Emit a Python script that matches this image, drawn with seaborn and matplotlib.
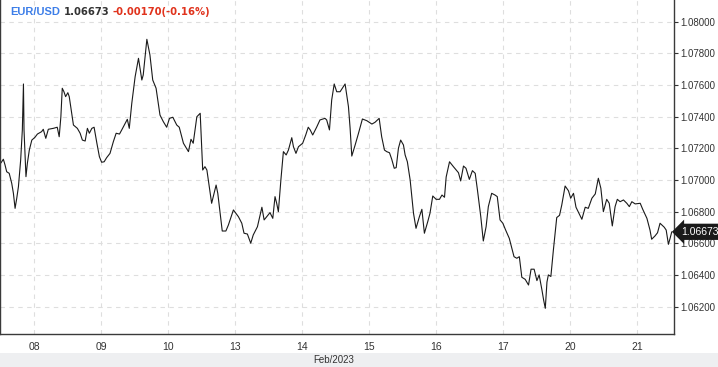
import matplotlib
matplotlib.use("Agg")
import matplotlib.pyplot as plt
import seaborn as sns
import pandas as pd
from matplotlib.patches import Rectangle

# ---- data: trading-hour offset (from Feb 7 12:00, weekend collapsed) and EUR/USD price
hours = [0, 0.9, 1.5, 2.1, 3.0, 3.9, 4.5, 5.1, 5.7, 6.3, 7.1, 7.7, 8.1, 8.3, 9.0, 9.5, 10.2, 11.1,
         12.2, 13.1, 14.6, 15.2, 16.1, 17.0, 18.8, 20.2, 20.9, 21.5, 22.0, 22.6, 23.2, 24.0, 24.5,
         26.0, 27.4, 28.4, 29.2, 30.2, 31.0, 31.7, 32.6, 33.4, 34.4, 35.3, 36.1, 37.0, 37.9, 39.1,
         40.3, 41.3, 42.5, 43.3, 45.3, 46.0, 46.9, 48.1, 49.3, 50.5, 51.0, 52.3, 53.4, 54.4, 55.6,
         57.0, 58.2, 59.4, 60.4, 61.6, 63.0, 63.9, 65.4, 67.2, 68.1, 68.9, 70.2, 71.4, 72.3, 73.1,
         73.8, 75.5, 77.1, 77.7, 79.3, 80.6, 81.5, 83.3, 85.1, 86.3, 87.1, 88.3, 89.5, 90.4, 91.9,
         93.5, 94.3, 95.2, 96.4, 97.4, 98.2, 98.8, 99.4, 100.3, 101.2, 102.2, 103.0, 104.2, 104.8,
         105.7, 106.6, 108.1, 109.2, 110.1, 110.8, 111.7, 113.1, 114.3, 116.1, 116.7, 117.7, 118.5,
         119.4, 120.3, 121.5, 122.7, 123.3, 124.5, 125.1, 125.7, 126.9, 128.1, 129.5, 131.1, 132.9,
         134.0, 135.5, 136.4, 137.4, 138.2, 139.2, 140.0, 140.9, 141.6, 142.4, 143.2, 144.2, 144.8,
         145.6, 146.6, 147.8, 148.7, 149.9, 150.8, 151.7, 152.9, 153.7, 154.7, 155.9, 157.1, 158.0,
         158.9, 159.5, 160.7, 162.1, 163.9, 164.7, 165.7, 166.6, 167.8, 168.9, 169.9, 170.7, 171.9,
         172.8, 173.8, 174.6, 175.8, 177.0, 177.8, 178.8, 179.8, 180.8, 182.1, 183.8, 184.8, 185.7,
         186.6, 187.8, 189.0, 189.9, 191.0, 192.0, 192.8, 193.8, 194.4, 195.0, 195.6, 196.1, 197.0,
         197.9, 199.1, 200.1, 200.9, 202.1, 203.3, 204.1, 205.1, 206.0, 207.2, 208.1, 209.3, 210.4,
         211.7, 212.9, 214.0, 214.9, 215.8, 217.0, 217.9, 219.0, 220.0, 220.8, 221.8, 223.0, 224.2,
         225.1, 226.0, 227.2, 229.0, 229.9, 231.4, 232.5, 233.1, 234.3, 235.2, 236.1, 237.6, 238.3,
         239.1, 239.7, 240.3]
prices = [1.07107, 1.07131, 1.07095, 1.07052, 1.07042, 1.06979, 1.06916, 1.06821, 1.06885, 1.06958,
          1.07126, 1.07316, 1.07606, 1.07316, 1.07021, 1.07105, 1.07189, 1.07252, 1.07269, 1.07290,
          1.07305, 1.07320, 1.07263, 1.07320, 1.07326, 1.07333, 1.07273, 1.07399, 1.07579, 1.07557,
          1.07526, 1.07551, 1.07526, 1.07347, 1.07326, 1.07295, 1.07252, 1.07246, 1.07326, 1.07295,
          1.07326, 1.07333, 1.07232, 1.07147, 1.07112, 1.07115, 1.07141, 1.07168, 1.07242, 1.07295,
          1.07290, 1.07316, 1.07383, 1.07326, 1.07484, 1.07652, 1.07768, 1.07631, 1.07663, 1.07888,
          1.07789, 1.07631, 1.07579, 1.07410, 1.07368, 1.07333, 1.07389, 1.07396, 1.07347, 1.07333,
          1.07232, 1.07179, 1.07257, 1.07232, 1.07399, 1.07421, 1.07063, 1.07084, 1.07063, 1.06853,
          1.06968, 1.06916, 1.06678, 1.06678, 1.06716, 1.06811, 1.06768, 1.06727, 1.06664, 1.06659,
          1.06601, 1.06653, 1.06705, 1.06828, 1.06748, 1.06768, 1.06794, 1.06758, 1.06895, 1.06853,
          1.06800, 1.07000, 1.07179, 1.07158, 1.07189, 1.07267, 1.07210, 1.07168, 1.07210, 1.07232,
          1.07284, 1.07333, 1.07316, 1.07284, 1.07333, 1.07379, 1.07389, 1.07379, 1.07316, 1.07505,
          1.07606, 1.07557, 1.07557, 1.07589, 1.07606, 1.07463, 1.07326, 1.07151, 1.07221, 1.07295,
          1.07385, 1.07374, 1.07353, 1.07364, 1.07389, 1.07273, 1.07189, 1.07179, 1.07172, 1.07131,
          1.07074, 1.07078, 1.07200, 1.07252, 1.07221, 1.07158, 1.07115, 1.07000, 1.06790, 1.06695,
          1.06768, 1.06815, 1.06664, 1.06737, 1.06790, 1.06899, 1.06878, 1.06878, 1.06905, 1.06891,
          1.07019, 1.07115, 1.07084, 1.07046, 1.06994, 1.07088, 1.07074, 1.07004, 1.07059, 1.07042,
          1.06937, 1.06768, 1.06615, 1.06705, 1.06832, 1.06916, 1.06905, 1.06895, 1.06748, 1.06727,
          1.06684, 1.06632, 1.06516, 1.06506, 1.06516, 1.06386, 1.06373, 1.06337, 1.06437, 1.06437,
          1.06365, 1.06401, 1.06306, 1.06243, 1.06190, 1.06356, 1.06401, 1.06391, 1.06558, 1.06763,
          1.06777, 1.06842, 1.06962, 1.06932, 1.06885, 1.06916, 1.06828, 1.06785, 1.06752, 1.06828,
          1.06821, 1.06885, 1.06912, 1.07011, 1.06948, 1.06800, 1.06878, 1.06853, 1.06710, 1.06832,
          1.06878, 1.06863, 1.06874, 1.06853, 1.06832, 1.06863, 1.06849, 1.06853, 1.06815, 1.06758,
          1.06684, 1.06626, 1.06647, 1.06667, 1.06727, 1.06702, 1.06684, 1.06594, 1.06632, 1.06673]

day_labels = ["08", "09", "10", "13", "14", "15", "16", "17", "20", "21"]
day_hours = [12, 36, 60, 84, 108, 132, 156, 180, 204, 228]
price_ticks = [1.062, 1.064, 1.066, 1.068, 1.070, 1.072, 1.074, 1.076, 1.078, 1.080]
symbol = "EUR/USD"
last_price = "1.06673"
change_text = "-0.00170(-0.16%)"
month_label = "Feb/2023"

df = pd.DataFrame({"hour": hours, "price": prices})

sns.set_theme(style="white")
plt.rcParams["font.family"] = ["Liberation Sans", "DejaVu Sans"]

fig = plt.figure(figsize=(7.18, 3.67), dpi=100)
fig.patch.set_facecolor("white")
fig.patches.append(Rectangle((0, 0), 1, 14 / 367, transform=fig.transFigure,
                             facecolor="#eeeff1", edgecolor="none", zorder=0))

ax = fig.add_axes([0.0, 33 / 367, 674 / 718, 334 / 367])
ax.set_facecolor("white")

sns.lineplot(data=df, x="hour", y="price", ax=ax, color="#1a1a1a", linewidth=0.8,
             sort=False, estimator=None)

ax.set_xlim(-0.3, 241.1)
ax.set_ylim(1.06028, 1.08136)

ax.set_xticks(day_hours)
ax.set_xticklabels(day_labels)
ax.set_yticks(price_ticks)
ax.set_yticklabels([f"{v:.5f}" for v in price_ticks])
ax.yaxis.tick_right()
ax.set_xlabel("")
ax.set_ylabel("")

ax.tick_params(axis="both", which="major", labelsize=7, colors="#333333",
               length=3, width=0.8, direction="out")
ax.tick_params(axis="x", labelsize=7.5, pad=3)
ax.tick_params(axis="y", pad=1.5)

ax.grid(True, color="#dedede", linestyle=(0, (4, 4)), linewidth=0.8)

for side in ["left", "bottom", "right"]:
    ax.spines[side].set_visible(True)
    ax.spines[side].set_color("#3a3a3a")
    ax.spines[side].set_linewidth(1.0)
ax.spines["top"].set_visible(False)

# current price tag
ax.annotate(last_price, xy=(1.0, prices[-1]), xycoords=("axes fraction", "data"),
            xytext=(5, 0), textcoords="offset points", ha="left", va="center",
            fontsize=7.5, color="white",
            bbox=dict(boxstyle="larrow,pad=0.3", fc="#1a1a1a", ec="none"),
            annotation_clip=False)

# title pieces
t1 = fig.text(10 / 718, (367 - 15) / 367, symbol, color="#3d7ee8", fontsize=8,
              fontweight="bold", ha="left", va="baseline")
t2 = ax.annotate(last_price, xy=(1, 0), xycoords=t1, xytext=(2.5, 0),
                 textcoords="offset points", color="#333333", fontsize=7.2,
                 fontweight="bold", ha="left", va="bottom", family=["DejaVu Sans"])
t3 = ax.annotate(change_text, xy=(1, 0), xycoords=t2, xytext=(2.2, 0),
                 textcoords="offset points", color="#e0321c", fontsize=7.2,
                 fontweight="bold", ha="left", va="bottom", family=["DejaVu Sans"])

fig.text(334 / 718, (367 - 360) / 367, month_label, color="#333333", fontsize=7,
         ha="center", va="center")

fig.savefig("out.png", dpi=100)
